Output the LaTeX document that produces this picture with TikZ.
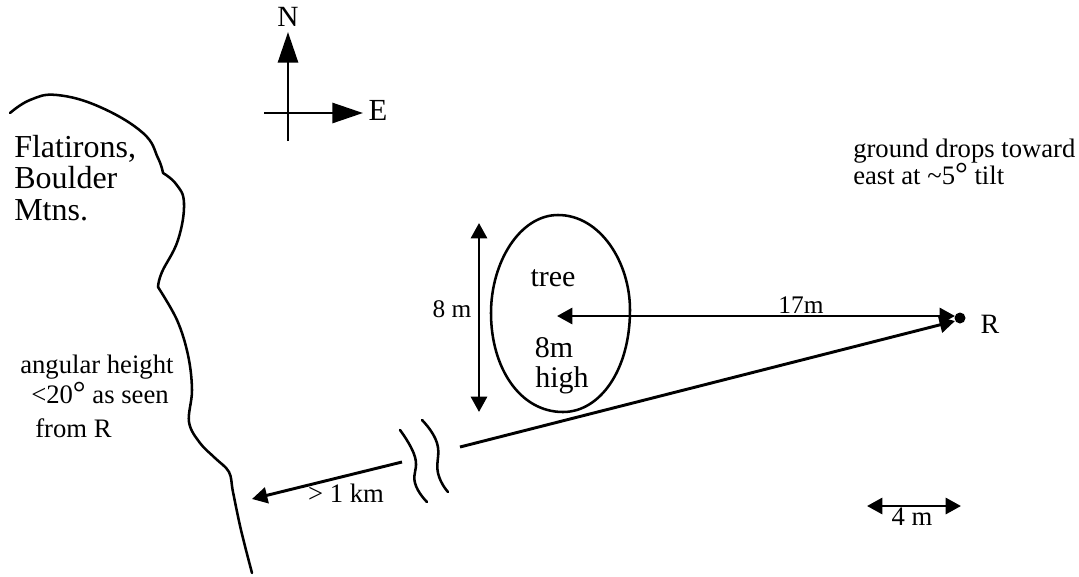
\documentclass[tikz,border=0pt]{standalone}
\usepackage{fontspec}
\setmainfont{Liberation Serif}
\usetikzlibrary{arrows.meta}
\newcommand{\bigdeg}{{\fontsize{24}{24}\selectfont °}}
\tikzset{
 ln/.style={line width=2.2pt,black},
 thin2/.style={line width=1.9pt,black,line cap=round},
 arr/.style={ln,-{Triangle[length=11.5pt,width=12pt]}},
 arrbig/.style={ln,-{Triangle[length=23pt,width=15pt]}},
 darr/.style={ln,{Triangle[length=11.5pt,width=12pt]}-{Triangle[length=11.5pt,width=12pt]}},
 txt/.style={inner sep=0pt,anchor=base west,font=\fontsize{20}{20}\selectfont},
 txtc/.style={inner sep=0pt,anchor=base,font=\fontsize{20}{20}\selectfont},
 big/.style={inner sep=0pt,anchor=base west,font=\fontsize{24}{24}\selectfont},
 mid/.style={inner sep=0pt,anchor=base,font=\fontsize{22.5}{22.5}\selectfont},
}
\begin{document}
\begin{tikzpicture}[x=0.75pt,y=-0.75pt]
\useasboundingbox (0,0) rectangle (1079,576);
% compass
\coordinate (cn) at (288,32);
\coordinate (cs) at (288,141);
\coordinate (ce) at (363,113);
\coordinate (cw) at (264,113);
\draw[arrbig] (cs)--(cn);
\draw[arrbig] (cw)--(ce);
\node[inner sep=0pt,anchor=base,font=\fontsize{22}{22}\selectfont] (N) at (288,26) {N};
\node[inner sep=0pt,anchor=base,font=\fontsize{23}{23}\selectfont] (E) at (378,120) {E};
% mountain
\draw[thin2] plot[smooth,tension=0.7] coordinates {(10,113) (30,100) (57,95) (100,107) (143,133) (158,158) (163,173)};
\draw[thin2] plot[smooth,tension=0.7] coordinates {(163,173) (176,184) (184,203) (178,240) (162,272) (158,287)};
\draw[thin2] plot[smooth,tension=0.6] coordinates {(158,287) (177,320) (188,355) (192,390) (189,422) (200,443) (215,458) (229,472) (233,492) (241,530) (252,573)};
\node[big] (fl1) at (14,157) {Flatirons,};
\node[big] (fl2) at (14,188) {Boulder};
\node[big] (fl3) at (14,220) {Mtns.};
\node[txt] (ang1) at (20,373) {angular height};
\node[txt] (ang2) at (31,403) {<20\bigdeg{} as seen};
\node[txt] (ang3) at (35,437) {from R};
% tree
\draw[thin2] (491,313) .. controls (491,262) and (520,215) .. (558,215)
 .. controls (600,215) and (630,262) .. (630,310)
 .. controls (630,370) and (600,412) .. (563,412)
 .. controls (520,412) and (491,368) .. (491,313) -- cycle;
\node[mid] (tree) at (553,286) {tree};
\node[mid] (h1) at (554,357) {8m};
\node[mid] (h2) at (562,387) {high};
\node[inner sep=0pt,anchor=base,font=\fontsize{19}{19}\selectfont] (m8) at (452,317) {8 m};
\coordinate (a) at (479,223);
\coordinate (b) at (479,412);
\draw[darr] (a)--(b);
% R
\coordinate (R) at (960,318);
\fill (R) circle (5.5);
\node[inner sep=0pt,anchor=base,font=\fontsize{21}{21}\selectfont] (Rl) at (990,333) {R};
\coordinate (l1) at (557,316);
\coordinate (r1) at (955,316);
\draw[darr] (l1)--(r1);
\node[inner sep=0pt,anchor=base,font=\fontsize{19}{19}\selectfont] (d17) at (801,313) {17m};
\coordinate (s1) at (460,447);
\coordinate (s2) at (955,321);
\draw[arr] (s1)--(s2);
\coordinate (s3) at (402,462);
\coordinate (s4) at (252,499);
\draw[arr] (s3)--(s4);
\node[txtc] (km) at (346,502) {> 1 km};
\draw[thin2] plot[smooth,tension=0.8] coordinates {(400,430) (415,457) (415,483) (427,502)};
\draw[thin2] plot[smooth,tension=0.8] coordinates {(422,420) (437,443) (438,473) (448,492)};
% top right
\node[txt] (g1) at (853,157) {ground drops toward};
\node[txt] (g2) at (853,184) {east at \char"7E 5\bigdeg{} tilt};
% scale
\coordinate (c1) at (867,506);
\coordinate (c2) at (961,506);
\draw[darr] (c1)--(c2);
\node[txtc] (m4) at (912,525) {4 m};
\end{tikzpicture}
\end{document}
